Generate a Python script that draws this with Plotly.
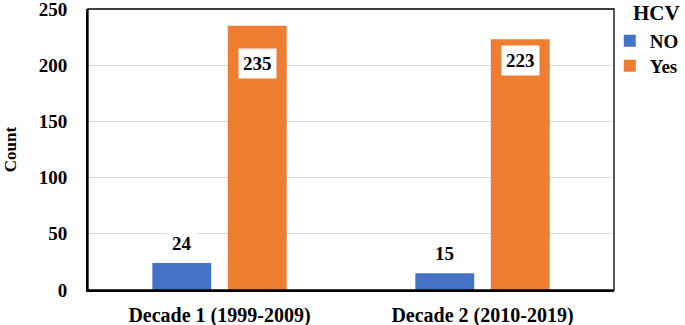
import plotly.graph_objects as go

categories = ["Decade 1 (1999-2009)", "Decade 2 (2010-2019)"]
no_values = [24, 15]
yes_values = [235, 223]
series_names = ["NO", "Yes"]
y_ticks = [0, 50, 100, 150, 200, 250]
legend_title = "HCV"
y_title = "Count"

BLUE = "#4472C4"
ORANGE = "#ED7D31"
FONT = "Liberation Serif"

fig = go.Figure()
fig.add_trace(go.Bar(x=categories, y=no_values, name=series_names[0], legend="legend",
                     marker=dict(color=BLUE, line=dict(width=0))))
fig.add_trace(go.Bar(x=categories, y=yes_values, name=series_names[1], legend="legend2",
                     marker=dict(color=ORANGE, line=dict(width=0))))

# data labels
group_shift = 37.75
yes_label_shift = [-38, -21]
for i, c in enumerate(categories):
    fig.add_annotation(x=c, y=no_values[i], xref="x", yref="y", text=str(no_values[i]),
                       xshift=-group_shift, yshift=20, showarrow=False,
                       font=dict(family=FONT, size=19, color="black", weight="bold"),
                       bgcolor="white", borderpad=4)
    fig.add_annotation(x=c, y=yes_values[i], xref="x", yref="y", text=str(yes_values[i]),
                       xshift=group_shift, yshift=yes_label_shift[i], showarrow=False,
                       font=dict(family=FONT, size=19, color="black", weight="bold"),
                       bgcolor="white", borderpad=4)

fig.add_annotation(x=1.033, y=1.035, xref="paper", yref="paper", text=legend_title,
                   showarrow=False, xanchor="left", yanchor="top",
                   font=dict(family=FONT, size=21, color="black", weight="bold"))

fig.add_shape(type="rect", xref="paper", yref="paper", x0=0, y0=0, x1=1, y1=1,
              line=dict(color="black", width=1.3), fillcolor="rgba(0,0,0,0)", layer="above")

legend_style = dict(xanchor="left", yanchor="top",
                    font=dict(family=FONT, size=19, color="black", weight="bold"),
                    bgcolor="rgba(0,0,0,0)", itemsizing="constant")

fig.update_layout(
    width=685, height=325,
    margin=dict(l=88, r=71, t=9, b=35, autoexpand=False),
    paper_bgcolor="white", plot_bgcolor="white",
    barmode="group", bargap=0.426, bargroupgap=0.22,
    font=dict(family=FONT, color="black"),
    showlegend=True,
    legend=dict(x=0.992, y=0.954, **legend_style),
    legend2=dict(x=0.992, y=0.865, **legend_style),
    xaxis=dict(showline=True, linecolor="black", linewidth=2, ticks="",
               tickfont=dict(family=FONT, size=20, color="black", weight="bold"),
               ticklabelstandoff=6, showgrid=False),
    yaxis=dict(range=[0, 250], tickvals=y_ticks, showline=True, linecolor="black", linewidth=2,
               ticks="", showgrid=True, gridcolor="#d9d9d9", gridwidth=1, zeroline=False,
               tickfont=dict(family=FONT, size=19, color="black", weight="bold"),
               ticklabelstandoff=15, ticklabeloverflow="allow",
               title=dict(text=y_title, standoff=18,
                          font=dict(family=FONT, size=17, color="black", weight="bold"))),
)

fig.write_html("out.html", config={"displayModeBar": False},
               post_script="document.body.style.margin='0';document.body.style.overflow='hidden';")
